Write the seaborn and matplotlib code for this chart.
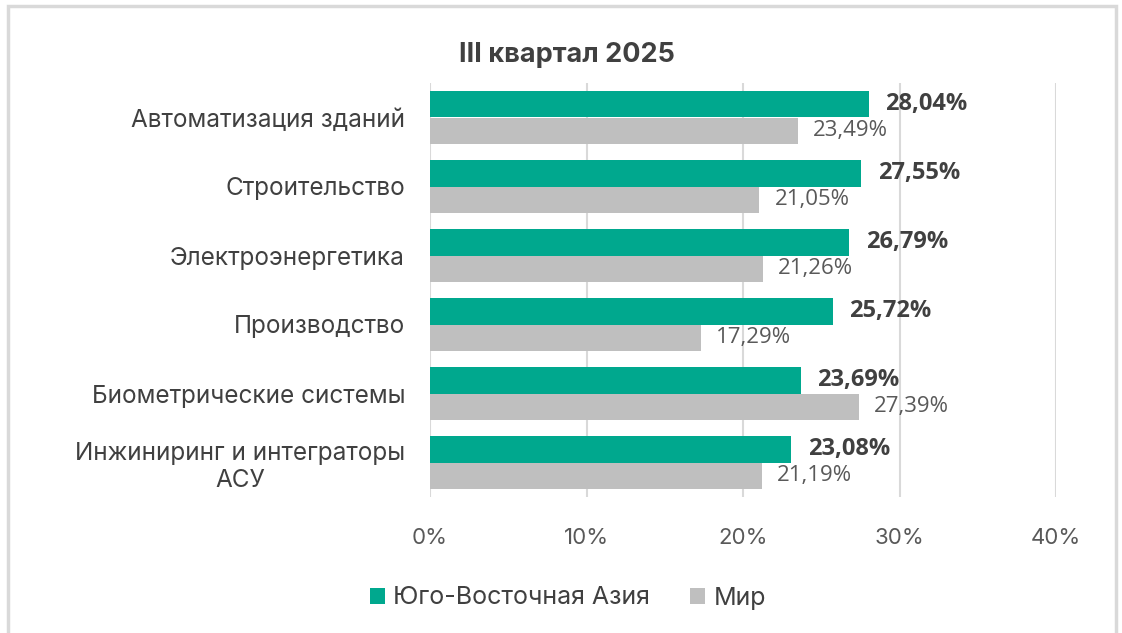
import matplotlib
matplotlib.use("Agg")
import matplotlib.pyplot as plt
import seaborn as sns
import pandas as pd
from matplotlib.patches import Rectangle, Patch

categories = ["Автоматизация зданий", "Строительство", "Электроэнергетика",
              "Производство", "Биометрические системы", "Инжиниринг и интеграторы\nАСУ"]
sea_values = [28.04, 27.55, 26.79, 25.72, 23.69, 23.08]
world_values = [23.49, 21.05, 21.26, 17.29, 27.39, 21.19]
series = ["Юго-Восточная Азия", "Мир"]
xticks = [0, 10, 20, 30, 40]
title = "III квартал 2025"

GREEN = "#00A88E"
GRAY = "#BFBFBF"

df = pd.DataFrame({
    "cat": categories * 2,
    "val": sea_values + world_values,
    "series": [series[0]] * len(categories) + [series[1]] * len(categories),
})

sns.set_theme(style="white")
plt.rcParams["font.family"] = ["Inter", "DejaVu Sans"]

fig = plt.figure(figsize=(11.22, 6.33), dpi=100)
ax = fig.add_axes([430 / 1122, 1 - 497 / 633, (1056 - 430) / 1122, (497 - 83) / 633])

sns.barplot(data=df, y="cat", x="val", hue="series", orient="h",
            palette=[GREEN, GRAY], width=0.77, ax=ax, legend=False,
            saturation=1, edgecolor="none")

ax.set_xlim(0, 40)
ax.set_xticks(xticks)
ax.set_xticklabels([f"{t}%" for t in xticks], color="#595959", fontsize=16)
ax.tick_params(axis="x", length=0, pad=22)
ax.tick_params(axis="y", length=0, pad=18)
for lab in ax.get_yticklabels():
    lab.set_fontsize(17.5)
    lab.set_color("#404040")
    lab.set_multialignment("center")
ax.set_xlabel("")
ax.set_ylabel("")
for s in ax.spines.values():
    s.set_visible(False)
ax.grid(axis="x", color="#D9D9D9", linewidth=1.5)
ax.set_axisbelow(True)

# data labels
for i, cont in enumerate(ax.containers):
    vals = sea_values if i == 0 else world_values
    labels = [f"{v:.2f}%".replace(".", ",") for v in vals]
    if i == 0:
        ax.bar_label(cont, labels=labels, padding=12, fontsize=17, fontweight="bold",
                     color="#404040", family=["Open Sans", "DejaVu Sans"])
    else:
        ax.bar_label(cont, labels=labels, padding=11, fontsize=16,
                     color="#595959", family=["Open Sans", "DejaVu Sans"])

fig.text(567 / 1122, 1 - 55 / 633, title, ha="center", va="center",
         fontsize=19.5, fontweight="bold", color="#404040")

handles = [Patch(facecolor=GREEN, edgecolor="none"), Patch(facecolor=GRAY, edgecolor="none")]
fig.legend(handles, series, loc="center", bbox_to_anchor=(568 / 1122, 1 - 598 / 633),
           ncol=2, frameon=False, fontsize=18, handlelength=0.6, handleheight=0.6,
           handletextpad=0.35, columnspacing=1.6, labelcolor="#404040")

# outer frame
fig.patches.append(Rectangle((8 / 1122, -0.05), (1116 - 8) / 1122, 1.05 - 6 / 633,
                             transform=fig.transFigure, fill=False,
                             edgecolor="#D9D9D9", linewidth=2.5, zorder=-1))

fig.savefig("out.png", dpi=100)
